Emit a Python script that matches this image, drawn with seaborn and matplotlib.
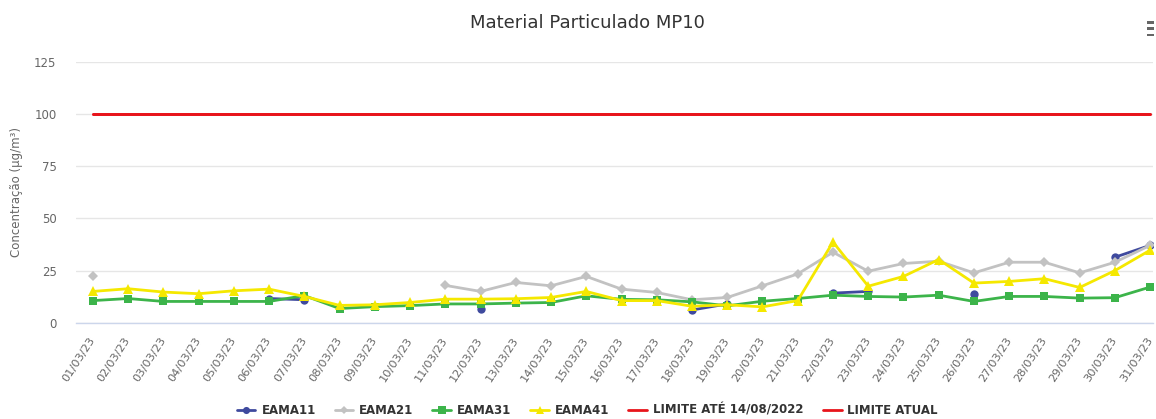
import numpy as np
import pandas as pd
import matplotlib
matplotlib.use("Agg")
import matplotlib.pyplot as plt
from matplotlib.lines import Line2D
from matplotlib.patches import Rectangle
import seaborn as sns

nan = np.nan
dates = [f"{d:02d}/03/23" for d in range(1, 32)]

eama11 = [nan, nan, nan, nan, nan, 11.6, 11.0, nan, nan, nan,
          nan, 6.5, nan, nan, nan, nan, nan, 6.1, 9.0, nan,
          nan, 14.2, 15.0, nan, nan, 13.7, nan, nan, nan, 31.4, 37.1]
eama21 = [22.6, nan, nan, nan, nan, nan, nan, nan, nan, nan,
          17.9, 15.0, 19.3, 17.7, 22.2, 16.1, 14.5, 11.0, 12.1, 17.7,
          23.4, 33.8, 24.7, 28.4, 29.5, 23.9, 29.0, 29.0, 23.9, 29.0, 37.1]
eama31 = [10.6, 11.6, 10.2, 10.2, 10.2, 10.2, 13.0, 6.8, 7.7, 8.2,
          9.0, 9.0, 9.4, 9.7, 12.9, 11.2, 11.0, 10.0, 8.1, 10.3,
          11.6, 13.2, 12.6, 12.3, 13.2, 10.2, 12.6, 12.6, 11.8, 12.0, 17.1]
eama41 = [15.0, 16.3, 14.7, 13.9, 15.3, 16.1, 12.6, 8.3, 8.6, 9.7,
          11.3, 11.3, 11.5, 12.1, 15.0, 10.6, 10.6, 7.9, 8.6, 7.6,
          10.6, 38.7, 17.5, 22.2, 30.3, 19.0, 19.8, 21.1, 16.9, 25.0, 34.8]
limite_ate = [100.0] * 31
limite_atual = [100.0] * 31

series = [
    ("EAMA11", eama11, "#3f4a9e", "o", 6.0),
    ("EAMA21", eama21, "#c2c2c2", "D", 4.8),
    ("EAMA31", eama31, "#3cb44a", "s", 6.3),
    ("EAMA41", eama41, "#f5e800", "^", 7.0),
    ("LIMITE ATÉ 14/08/2022", limite_ate, "#e8141b", None, 0),
    ("LIMITE ATUAL", limite_atual, "#e8141b", None, 0),
]

sns.set_theme(style="white")
plt.rcParams["font.family"] = ["DejaVu Sans"]

fig = plt.figure(figsize=(11.56, 4.19), dpi=100)
ax = fig.add_axes([0.0657, 0.2298, 0.9317, 0.6222])

def to_long(vals):
    rows = []
    seg = 0
    prev_nan = True
    for i, v in enumerate(vals):
        if np.isnan(v):
            prev_nan = True
            continue
        if prev_nan:
            seg += 1
        prev_nan = False
        rows.append((i, v, seg))
    return pd.DataFrame(rows, columns=["x", "y", "seg"])

handles = []
for z, (name, vals, col, mk, ms) in enumerate(series):
    df = to_long(vals)
    kw = dict(data=df, x="x", y="y", units="seg", estimator=None, color=col,
              linewidth=2.0, ax=ax, legend=False, zorder=3 + z, sort=False)
    if mk:
        kw.update(marker=mk, markersize=ms, markeredgewidth=0, markeredgecolor=col)
    sns.lineplot(**kw)
    handles.append(Line2D([0], [0], color=col, lw=2.0, marker=mk if mk else None,
                          markersize=ms * 0.85 if mk else 0, markeredgewidth=0))

ax.set_xlim(-0.48, 30.08)
ax.set_ylim(0, 125)
ax.set_yticks([0, 25, 50, 75, 100, 125])
ax.set_xticks(range(31))
ax.set_xticklabels(dates, rotation=57, ha="right", va="center", rotation_mode="anchor")
ax.tick_params(axis="x", colors="#666666", labelsize=8.2, length=0, pad=11)
ax.tick_params(axis="y", colors="#666666", labelsize=8.5, length=0, pad=14)
ax.grid(axis="y", color="#e6e6e6", linewidth=1.0)
ax.grid(axis="x", visible=False)
for s in ["top", "right", "left"]:
    ax.spines[s].set_visible(False)
ax.spines["bottom"].set_color("#ccd6eb")
ax.spines["bottom"].set_linewidth(1.0)
ax.set_xlabel("")
ax.set_ylabel("Concentração (µg/m³)", color="#666666", fontsize=8.5, labelpad=8)

fig.text(0.508, 0.945, "Material Particulado MP10", ha="center", va="center",
         fontsize=13, color="#333333")

leg = fig.legend(handles, [s[0] for s in series], loc="lower center",
                 bbox_to_anchor=(0.508, -0.02), ncol=6, frameon=False,
                 prop={"weight": "bold", "size": 8.5}, handlelength=1.6,
                 handletextpad=0.5, columnspacing=1.6)
for t in leg.get_texts():
    t.set_color("#333333")

# menu icon
for yy in (0.913, 0.928, 0.943):
    fig.add_artist(Rectangle((0.9925, yy), 0.0055, 0.007, transform=fig.transFigure,
                             color="#666666", lw=0))

fig.savefig("out.png", dpi=100)
